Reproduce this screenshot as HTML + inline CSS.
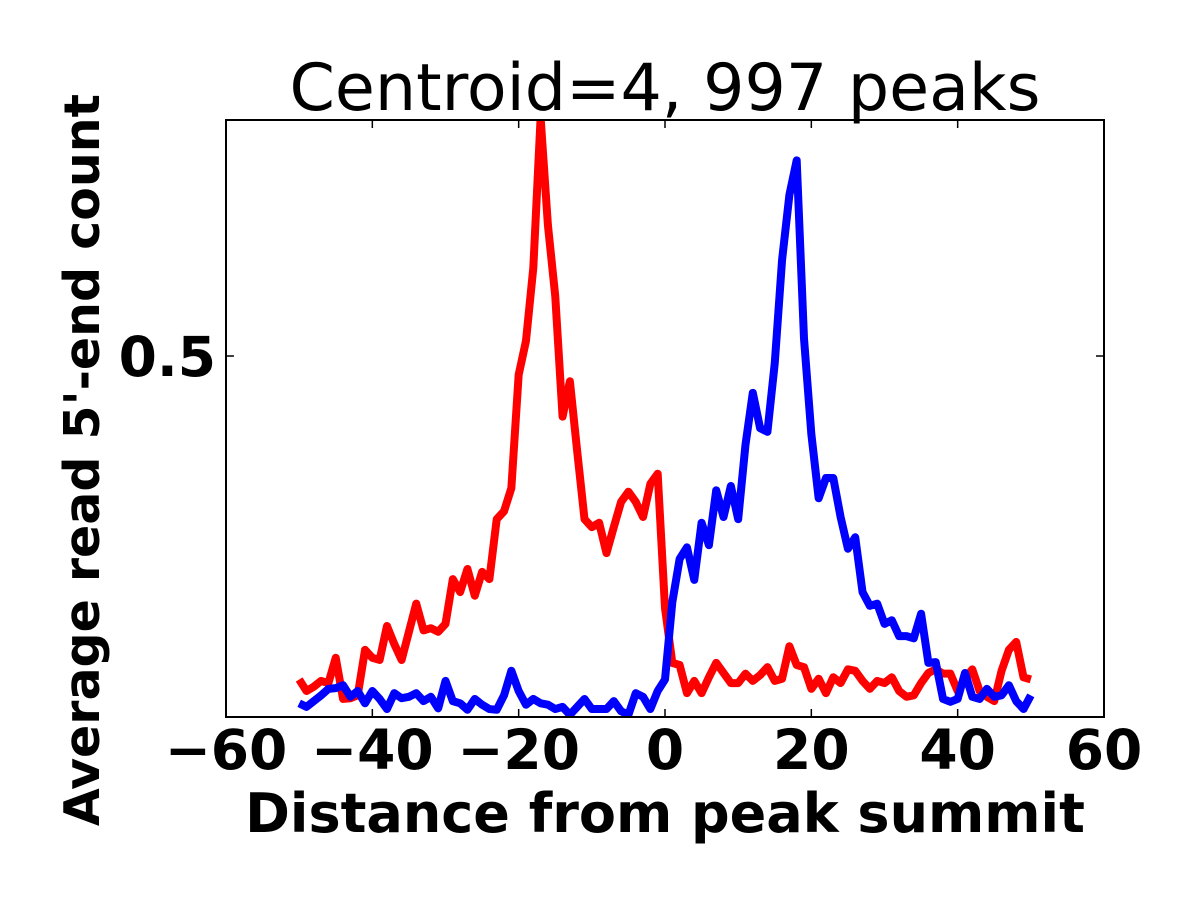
<!DOCTYPE html>
<html><head><meta charset="utf-8"><style>
html,body{margin:0;padding:0;background:#fff;}
svg text{font-family:"DejaVu Sans","Liberation Sans",sans-serif;}
</style></head><body>
<svg id="chart" width="1200" height="900" viewBox="0 0 1200 900" xmlns="http://www.w3.org/2000/svg">
<defs><clipPath id="clip"><rect x="226" y="120" width="878" height="597"/></clipPath></defs>
<rect width="1200" height="900" fill="#fff"/>
<text x="665" y="110" text-anchor="middle" font-size="65">Centroid=4, 997 peaks</text>
<g id="lines" clip-path="url(#clip)"></g>
<rect x="226" y="120" width="878" height="597" fill="none" stroke="#000" stroke-width="2"/>
<g id="ticks"></g>
<text x="665" y="832" text-anchor="middle" font-size="54" font-weight="bold">Distance from peak summit</text>
<text transform="translate(99,460) rotate(-90)" text-anchor="middle" font-size="49" font-weight="bold">Average read 5'-end count</text>
</svg>
<script>
const xTicks=[-60,-40,-20,0,20,40,60];
const xTickLabels=["\u221260","\u221240","\u221220","0","20","40","60"];
const yTicks=[0.5];
const yTickLabels=["0.5"];
const positions=[];for(let i=-50;i<=50;i++)positions.push(i);
const redValues=[0.052,0.036,0.042,0.050,0.047,0.082,0.025,0.026,0.030,0.093,0.082,0.079,0.126,0.101,0.079,0.118,0.157,0.120,0.123,0.118,0.129,0.191,0.173,0.205,0.168,0.201,0.191,0.274,0.285,0.317,0.474,0.521,0.622,0.830,0.681,0.583,0.416,0.465,0.368,0.274,0.263,0.269,0.227,0.263,0.298,0.312,0.298,0.277,0.323,0.337,0.151,0.075,0.072,0.033,0.050,0.033,0.055,0.075,0.061,0.047,0.047,0.060,0.050,0.058,0.069,0.050,0.053,0.098,0.072,0.069,0.039,0.053,0.033,0.055,0.047,0.066,0.064,0.050,0.039,0.050,0.047,0.055,0.036,0.028,0.030,0.047,0.061,0.066,0.060,0.060,0.036,0.053,0.066,0.036,0.028,0.022,0.064,0.093,0.104,0.055,0.052];
const blueValues=[0.019,0.014,0.022,0.030,0.039,0.040,0.044,0.028,0.036,0.019,0.036,0.025,0.011,0.033,0.026,0.028,0.033,0.022,0.028,0.012,0.050,0.022,0.019,0.010,0.025,0.017,0.011,0.010,0.030,0.064,0.036,0.017,0.025,0.019,0.017,0.011,0.014,0.003,0.014,0.025,0.011,0.011,0.011,0.022,0.008,0.003,0.033,0.028,0.011,0.036,0.052,0.159,0.219,0.235,0.190,0.269,0.238,0.314,0.277,0.320,0.274,0.377,0.449,0.400,0.395,0.490,0.633,0.723,0.771,0.524,0.392,0.303,0.331,0.331,0.277,0.233,0.249,0.173,0.154,0.157,0.129,0.134,0.112,0.112,0.109,0.143,0.075,0.076,0.025,0.021,0.025,0.061,0.028,0.025,0.039,0.028,0.030,0.044,0.022,0.011,0.030];
const X0=226,X1=1104,Y0=717,Y1=120,xMin=-60,xMax=60,yMin=0,yMax=0.8269;
const sx=v=>X0+(v-xMin)/(xMax-xMin)*(X1-X0);
const sy=v=>Y0-(v-yMin)/(yMax-yMin)*(Y0-Y1);
const NS="http://www.w3.org/2000/svg";
const lines=document.getElementById('lines');
function series(vals,color,name){
  const p=document.createElementNS(NS,'polyline');
  p.setAttribute('points',vals.map((v,i)=>sx(positions[i])+','+sy(v)).join(' '));
  p.setAttribute('fill','none');p.setAttribute('stroke',color);p.setAttribute('stroke-width','8');
  p.setAttribute('stroke-linejoin','round');
  
  
  lines.appendChild(p);
}
series(redValues,'#ff0000','red-series-line');
series(blueValues,'#0000ff','blue-series-line');
const tg=document.getElementById('ticks');
xTicks.forEach((t,i)=>{
  const x=sx(t);
  [[Y0,Y0-8],[Y1,Y1+8]].forEach(([a,b])=>{
    const l=document.createElementNS(NS,'line');
    l.setAttribute('x1',x);l.setAttribute('x2',x);l.setAttribute('y1',a);l.setAttribute('y2',b);
    l.setAttribute('stroke','#000');l.setAttribute('stroke-width','1.5');
    
    
    tg.appendChild(l);
  });
  const tx=document.createElementNS(NS,'text');
  tx.setAttribute('x',x);tx.setAttribute('y',Y0+52);tx.setAttribute('text-anchor','middle');
  tx.setAttribute('font-size','55');tx.setAttribute('font-weight','bold');
  tx.textContent=xTickLabels[i];
  
  
  tg.appendChild(tx);
});
yTicks.forEach((t,i)=>{
  const y=sy(t);
  [[X0,X0+8],[X1,X1-8]].forEach(([a,b])=>{
    const l=document.createElementNS(NS,'line');
    l.setAttribute('x1',a);l.setAttribute('x2',b);l.setAttribute('y1',y);l.setAttribute('y2',y);
    l.setAttribute('stroke','#000');l.setAttribute('stroke-width','1.5');
    
    
    tg.appendChild(l);
  });
  const tx=document.createElementNS(NS,'text');
  tx.setAttribute('x',X0-10);tx.setAttribute('y',y+20);tx.setAttribute('text-anchor','end');
  tx.setAttribute('font-size','55');tx.setAttribute('font-weight','bold');
  tx.textContent=yTickLabels[i];
  
  
  tg.appendChild(tx);
});
</script>
</body></html>
